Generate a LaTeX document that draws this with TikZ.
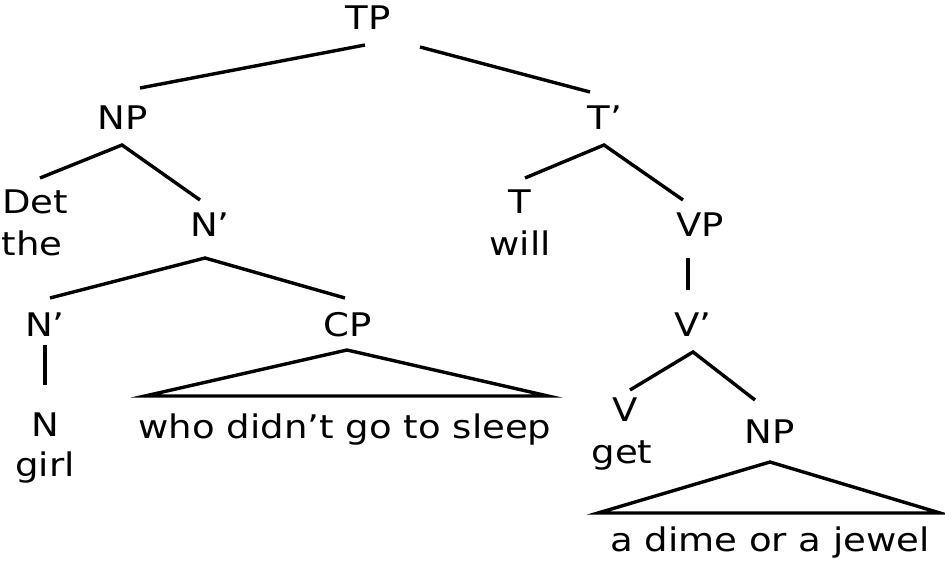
\documentclass[tikz,border=0pt]{standalone}
\usepackage{fontspec}
\setmainfont{DejaVu Sans}
\newcommand{\widetxt}[1]{\scalebox{1.14}[1]{#1}}
\begin{document}
\begin{tikzpicture}[x=1pt,y=-1pt,
  lab/.style={font=\fontsize{32.5}{34}\selectfont,inner sep=0pt,anchor=center},
  edge/.style={line width=3.4pt}]
\useasboundingbox (0,0) rectangle (945,567);
\node[lab] (TP) at (368,18) {\widetxt{TP}};
\node[lab] (NP) at (123,118) {\widetxt{NP}};
\node[lab] (Tb) at (605,118) {\widetxt{T’}};
\node[lab] (Det) at (35,202) {\widetxt{Det}};
\node[lab] (the) at (32,243) {\widetxt{the}};
\node[lab] (Nb) at (210,225) {\widetxt{N’}};
\node[lab] (T) at (520,202) {\widetxt{T}};
\node[lab] (will) at (520,243) {\widetxt{will}};
\node[lab] (VP) at (700,225) {\widetxt{VP}};
\node[lab] (Nb2) at (45,325) {\widetxt{N’}};
\node[lab] (CP) at (348,325) {\widetxt{CP}};
\node[lab] (Vb) at (693,325) {\widetxt{V’}};
\node[lab] (N) at (45,425) {\widetxt{N}};
\node[lab] (girl) at (45,468) {\widetxt{girl}};
\node[lab] (who) at (345,430) {\widetxt{who didn’t go to sleep}};
\node[lab] (V) at (625,410) {\widetxt{V}};
\node[lab] (get) at (622,455) {\widetxt{get}};
\node[lab] (NP2) at (770,432) {\widetxt{NP}};
\node[lab] (dime) at (770,543) {\widetxt{a dime or a jewel}};
\coordinate (a1) at (365,45); \coordinate (a2) at (140,88);
\coordinate (b1) at (420,47); \coordinate (b2) at (590,92);
\coordinate (c0) at (122,145); \coordinate (c1) at (40,178); \coordinate (c2) at (200,200);
\coordinate (d0) at (604,145); \coordinate (d1) at (525,178); \coordinate (d2) at (683,200);
\coordinate (e0) at (205,258); \coordinate (e1) at (50,298); \coordinate (e2) at (345,298);
\coordinate (f1) at (688,258); \coordinate (f2) at (688,290);
\coordinate (g1) at (45,345); \coordinate (g2) at (45,385);
\coordinate (h0) at (693,352); \coordinate (h1) at (630,390); \coordinate (h2) at (755,400);
\coordinate (t1) at (347,350); \coordinate (t2) at (145,396); \coordinate (t3) at (548,396);
\coordinate (u1) at (770,462); \coordinate (u2) at (598,513); \coordinate (u3) at (940,513);
\draw[edge] (a1)--(a2); \draw[edge] (b1)--(b2);
\draw[edge] (c1)--(c0)--(c2);
\draw[edge] (d1)--(d0)--(d2);
\draw[edge] (e1)--(e0)--(e2);
\draw[edge] (f1)--(f2);
\draw[edge] (g1)--(g2);
\draw[edge] (h1)--(h0)--(h2);
\draw[edge,line join=miter] (t1)--(t2)--(t3)--cycle;
\draw[edge,line join=miter] (u1)--(u2)--(u3)--cycle;
\end{tikzpicture}
\end{document}
